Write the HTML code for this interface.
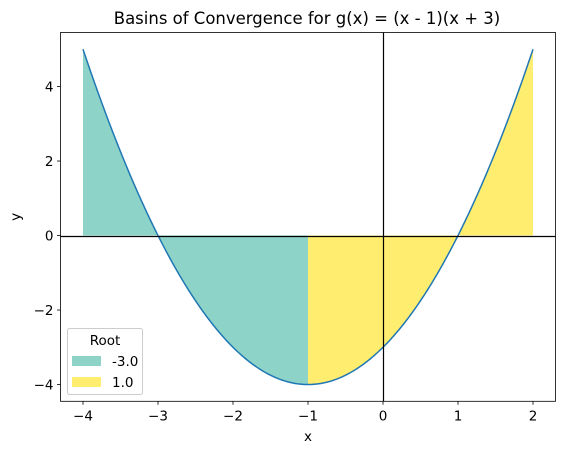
<!DOCTYPE html>
<html><head><meta charset="utf-8"><style>
body{margin:0;background:#fff;}
svg{font-family:"DejaVu Sans","Liberation Sans",sans-serif;}
</style></head><body>
<svg id="chart" width="565" height="455" xmlns="http://www.w3.org/2000/svg">
<text x="307" y="24" font-size="16.5" text-anchor="middle">Basins of Convergence for g(x) = (x - 1)(x + 3)</text>
<g id="plot"></g>
</svg>
<script>
const xTicks=[-4,-3,-2,-1,0,1,2];
const yTicks=[-4,-2,0,2,4];
const roots=[-3,1];
const basinStarts=[-4,-1];
const basinEnds=[-1,2];
const basinColors=['#8dd3c7','#ffed6f'];
const xMin=-4.3,xMax=2.3,yMin=-4.45,yMax=5.45;
const L=60.5,R=555.5,T=32.5,B=401.3;
const sx=x=>L+(x-xMin)/(xMax-xMin)*(R-L);
const sy=y=>B-(y-yMin)/(yMax-yMin)*(B-T);
const g=x=>(x-1)*(x+3);
const NS='http://www.w3.org/2000/svg';
const P=document.getElementById('plot');
function mk(t,a,parent){const e=document.createElementNS(NS,t);for(const k in a)e.setAttribute(k,a[k]);(parent||P).appendChild(e);return e;}
roots.forEach((r,i)=>{
  let d='M'+sx(basinStarts[i])+','+sy(0);
  for(let k=0;k<=100;k++){const x=basinStarts[i]+(basinEnds[i]-basinStarts[i])*k/100;d+=' L'+sx(x)+','+sy(g(x));}
  d+=' L'+sx(basinEnds[i])+','+sy(0)+'Z';
  const e=mk('path',{d:d,fill:basinColors[i],stroke:'none'});
  
  
});
let d='';
for(let k=0;k<=300;k++){const x=-4+6*k/300;d+=(k?' L':'M')+sx(x)+','+sy(g(x));}
const c=mk('path',{d:d,fill:'none',stroke:'#1f77b4','stroke-width':1.5});


const h=mk('line',{x1:L,x2:R,y1:Math.round(sy(0))+0.5,y2:Math.round(sy(0))+0.5,stroke:'#000','stroke-width':1.2});


const v=mk('line',{x1:Math.round(sx(0))+0.5,x2:Math.round(sx(0))+0.5,y1:T,y2:B,stroke:'#000','stroke-width':1.2});


const f=mk('rect',{x:L,y:T,width:R-L,height:B-T,fill:'none',stroke:'#000','stroke-width':0.8});


xTicks.forEach(t=>{
  mk('line',{x1:sx(t),x2:sx(t),y1:B,y2:B+3.5,stroke:'#000','stroke-width':0.8});
  const e=mk('text',{x:sx(t),y:B+19,'font-size':13.5,'text-anchor':'middle'});
  e.textContent=(t<0?'−':'')+Math.abs(t);
  
  
});
yTicks.forEach(t=>{
  mk('line',{x1:L-3.5,x2:L,y1:sy(t),y2:sy(t),stroke:'#000','stroke-width':0.8});
  const e=mk('text',{x:L-7,y:sy(t)+5,'font-size':13.5,'text-anchor':'end'});
  e.textContent=(t<0?'−':'')+Math.abs(t);
  
  
});
const xl=mk('text',{x:(L+R)/2,y:441,'font-size':13.5,'text-anchor':'middle'});xl.textContent='x';


const yl=mk('text',{x:20,y:(T+B)/2,'font-size':13.5,'text-anchor':'middle',transform:'rotate(-90 20 '+(T+B)/2+')'});yl.textContent='y';


const lg=mk('g',{});


mk('rect',{x:67.5,y:328.5,width:75,height:66,rx:2,fill:'#fff','fill-opacity':0.8,stroke:'#ccc','stroke-width':1},lg);
const lt=mk('text',{x:105,y:345,'font-size':13.5,'text-anchor':'middle'},lg);lt.textContent='Root';
roots.forEach((r,i)=>{
  const y=356+i*21;
  const s=mk('rect',{x:72,y:y,width:29,height:10,fill:basinColors[i]},lg);
  
  
  const t=mk('text',{x:112,y:y+10,'font-size':13.5},lg);t.textContent=r.toFixed(1);
  
  
});
</script>
</body></html>
